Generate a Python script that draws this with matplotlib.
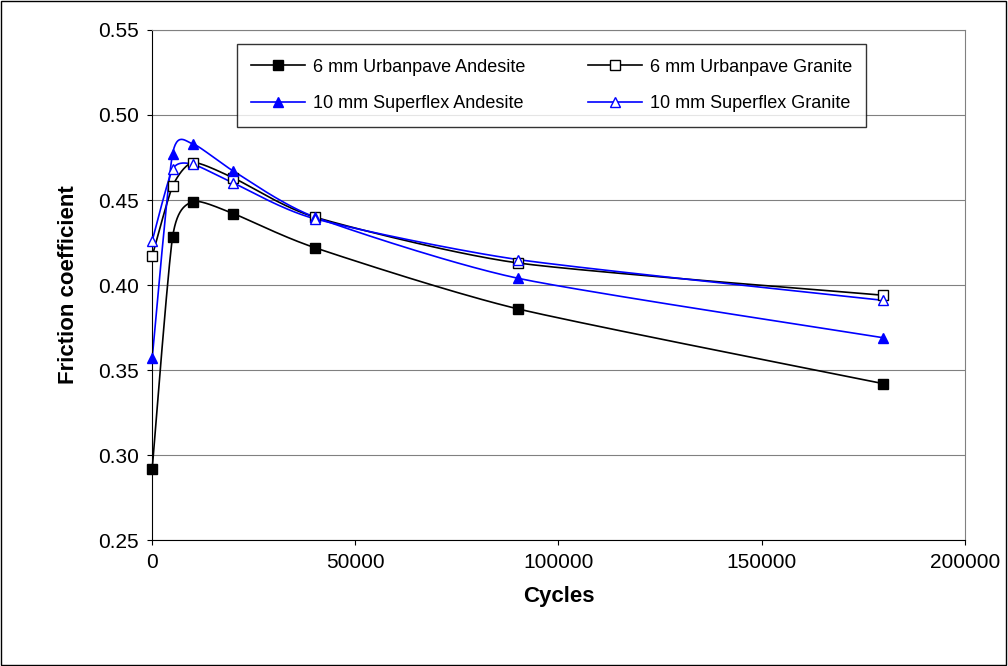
import numpy as np
import matplotlib.pyplot as plt

plt.rcParams['font.family'] = ['Liberation Sans', 'DejaVu Sans']

cycles = [0, 5000, 10000, 20000, 40000, 90000, 180000]
urban_andesite = [0.292, 0.428, 0.449, 0.442, 0.422, 0.386, 0.342]
urban_granite = [0.417, 0.458, 0.472, 0.463, 0.440, 0.413, 0.394]
super_andesite = [0.357, 0.477, 0.483, 0.467, 0.440, 0.404, 0.369]
super_granite = [0.426, 0.468, 0.471, 0.460, 0.439, 0.415, 0.391]


def smooth(x, y, n=30, k=9.0):
    # Bezier curve through the points, like Excel's smoothed line
    x = np.asarray(x, float)
    y = np.asarray(y, float)
    px = np.concatenate([[x[0]], x, [x[-1]]])
    py = np.concatenate([[y[0]], y, [y[-1]]])
    xs, ys = [], []
    t = np.linspace(0, 1, n)
    for i in range(1, len(px) - 2):
        p0, p1, p2, p3 = [np.array([px[j], py[j]]) for j in range(i - 1, i + 3)]
        c1 = p1 + (p2 - p0) / k
        c2 = p2 - (p3 - p1) / k
        b = ((1 - t) ** 3)[:, None] * p1 + (3 * (1 - t) ** 2 * t)[:, None] * c1 \
            + (3 * (1 - t) * t ** 2)[:, None] * c2 + (t ** 3)[:, None] * p2
        xs.extend(b[:, 0])
        ys.extend(b[:, 1])
    return xs, ys


fig = plt.figure(figsize=(10.08, 6.66), dpi=100)
fig.patches.append(plt.Rectangle((0.001, 0.001), 0.997, 0.997, transform=fig.transFigure,
                                 fill=False, edgecolor='black', lw=1))
ax = fig.add_axes([0.151, 0.189, 0.806, 0.766])

series = [
    (urban_andesite, 'black', 's', 'black', '6 mm Urbanpave Andesite'),
    (urban_granite, 'black', 's', 'white', '6 mm Urbanpave Granite'),
    (super_andesite, '#0000ff', '^', '#0000ff', '10 mm Superflex Andesite'),
    (super_granite, '#0000ff', '^', 'white', '10 mm Superflex Granite'),
]
handles = []
for y, col, m, fc, lab in series:
    sx, sy = smooth(cycles, y)
    ax.plot(sx, sy, color=col, lw=1.2, clip_on=False)
    ax.plot(cycles, y, linestyle='none', marker=m, markersize=7, markerfacecolor=fc,
            markeredgecolor=col, clip_on=False, zorder=5)
    h, = ax.plot([], [], color=col, lw=1.2, marker=m, markersize=7, markerfacecolor=fc,
                 markeredgecolor=col, label=lab)
    handles.append(h)

ax.set_xlim(0, 200000)
ax.set_ylim(0.25, 0.55)
ax.set_xticks(np.arange(0, 200001, 50000))
ax.set_yticks(np.arange(0.25, 0.551, 0.05))
ax.set_yticklabels([f'{v:.2f}' for v in np.arange(0.25, 0.551, 0.05)])
ax.yaxis.grid(True, color='#808080', lw=0.8)
ax.set_axisbelow(True)
for s in ['top', 'right']:
    ax.spines[s].set_color('#808080')
ax.tick_params(labelsize=15, direction='out', pad=6)
ax.set_xlabel('Cycles', fontsize=16, fontweight='bold', labelpad=10)
ax.set_ylabel('Friction coefficient', fontsize=16, fontweight='bold', labelpad=14)

order = [handles[0], handles[2], handles[1], handles[3]]
leg = ax.legend(handles=order, labels=[h.get_label() for h in order], ncol=2,
                loc='upper left', bbox_to_anchor=(0.093, 0.99), fontsize=13,
                frameon=True, fancybox=False, edgecolor='black', handlelength=3,
                handletextpad=0.4, columnspacing=3.5, labelspacing=1.1, borderpad=0.8)
leg.get_frame().set_linewidth(1)

fig.savefig('out.png', dpi=100)
